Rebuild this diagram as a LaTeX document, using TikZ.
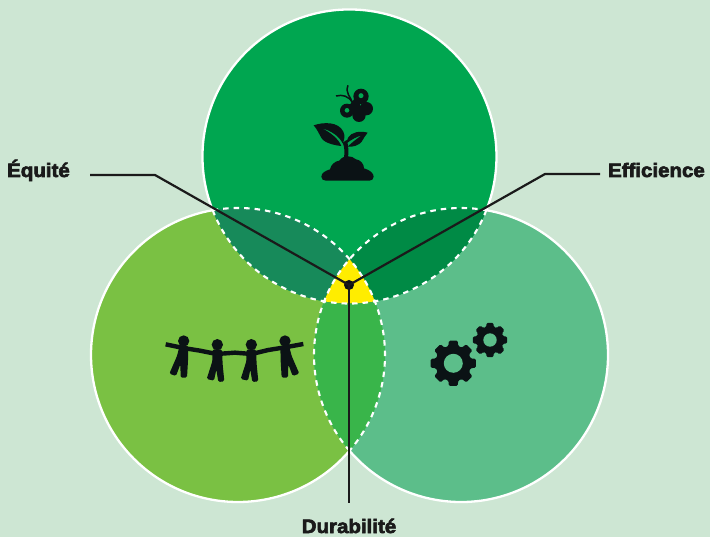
\documentclass[tikz,border=0pt]{standalone}
\usepackage{fontspec}
\newfontfamily\labfont{Liberation Sans Bold}[FakeBold=3.2,FakeStretch=1.05]
\definecolor{bgc}{HTML}{CDE6D3}
\definecolor{topc}{HTML}{00A650}
\definecolor{leftc}{HTML}{7AC143}
\definecolor{rightc}{HTML}{5CBE8A}
\definecolor{tlc}{HTML}{178A5A}
\definecolor{trc}{HTML}{008A45}
\definecolor{lrc}{HTML}{39B54A}
\definecolor{midc}{HTML}{FFED00}
\definecolor{inkc}{HTML}{0B1215}
\definecolor{linec}{HTML}{1A1A1A}
\tikzset{
 lab/.style={font=\labfont\fontsize{19.5}{20}\selectfont,text=linec,inner sep=0pt},
 conn/.style={draw=linec,line width=2.2pt},
 edge solid/.style={draw=white,line width=2.3pt},
 edge dash/.style={draw=white,line width=2.1pt,dash pattern=on 5.5pt off 5pt},
 ink/.style={fill=inkc,draw=none},
 gearhole/.style={fill=rightc,draw=none},
}
\newcommand{\Tc}{(349.5,156.5) circle (147)}
\newcommand{\Lc}{(238,355) circle (147)}
\newcommand{\Rc}{(461,355) circle (147)}
\newcommand{\gearshape}[4]{% x,y,outer,hole
 \begin{scope}[shift={(#1,#2)}]
  \fill[ink,rounded corners=1.2pt]
   (-11:#3) -- (11:#3) -- (16:#3*0.78) -- (29:#3*0.78)
   \foreach \a in {45,90,...,315}{
    -- ({\a-11}:#3) -- ({\a+11}:#3) -- ({\a+16}:#3*0.78) -- ({\a+29}:#3*0.78)
   } -- cycle;
  \fill[gearhole] (0,0) circle (#4);
 \end{scope}}
\newcommand{\personinner}{%
  \fill[ink] (0,0) circle (17);
  \fill[ink,rounded corners=1.5pt] (-14,14) -- (14,14) -- (16,60) -- (21,110) -- (3,112) -- (-3,75) -- (-10,108) -- (-32,103) -- (-15,50) -- cycle;}
\newcommand{\personouter}{%
  \fill[ink] (0,0) circle (17);
  \fill[ink,rounded corners=1.5pt] (-12,14) -- (14,14) -- (13,60) -- (10,110) -- (-9,110) -- (-10,70) -- (-23,105) -- (-43,98) -- (-20,45) -- cycle;}
\begin{document}
\begin{tikzpicture}[x=1pt,y=-1pt]
\useasboundingbox (0,0) rectangle (710,537);
\fill[bgc] (0,0) rectangle (710,537);
% discs
\fill[leftc] \Lc;
\fill[rightc] \Rc;
\fill[topc] \Tc;
% overlaps
\begin{scope}\clip \Lc; \fill[lrc] \Rc; \end{scope}
\begin{scope}\clip \Tc; \fill[tlc] \Lc; \end{scope}
\begin{scope}\clip \Tc; \fill[trc] \Rc; \end{scope}
\begin{scope}\clip \Tc; \clip \Lc; \fill[midc] \Rc; \end{scope}
% outer edges
\draw[edge solid] (349.5,156.5) ++(158.6:147) arc[start angle=158.6,end angle=381.4,radius=147];
\draw[edge solid] (238,355) ++(40.7:147) arc[start angle=40.7,end angle=260.1,radius=147];
\draw[edge solid] (461,355) ++(-80.1:147) arc[start angle=-80.1,end angle=139.3,radius=147];
% inner dashed edges
\draw[edge dash] (349.5,156.5) ++(21.4:147) arc[start angle=21.4,end angle=158.6,radius=147];
\draw[edge dash] (238,355) ++(-99.9:147) arc[start angle=-99.9,end angle=40.7,radius=147];
\draw[edge dash] (461,355) ++(139.3:147) arc[start angle=139.3,end angle=279.9,radius=147];
% gears
\gearshape{453.3}{363.3}{23}{9.5}
\gearshape{490}{340}{17.5}{6.7}
% people
\begin{scope}[shift={(150,320)},scale=1/3]
 \draw[draw=inkc,line width=4.4pt] (47,73) -- (100,84) -- (150,92) -- (200,102) -- (255,98) -- (305,102) -- (355,90) -- (405,82) -- (460,72);
 \begin{scope}[shift={(101,63)}]\personouter\end{scope}
 \begin{scope}[shift={(202,74)}]\personinner\end{scope}
 \begin{scope}[shift={(304,74)}]\personinner\end{scope}
 \begin{scope}[shift={(405,63)},xscale=-1]\personouter\end{scope}
\end{scope}
% plant and butterfly
\begin{scope}[shift={(280,60)},scale=1/3]
 % mound
 \fill[ink] (124,350) .. controls (124,338) and (138,332) .. (150,328)
   .. controls (152,315) and (165,303) .. (178,302)
   .. controls (190,284) and (215,286) .. (228,298)
   .. controls (242,300) and (252,312) .. (252,325)
   .. controls (270,330) and (281,340) .. (281,350)
   .. controls (281,358) and (275,362) .. (268,362)
   -- (138,362) .. controls (130,362) and (124,358) .. (124,350) -- cycle;
 % stem
 \fill[ink] (192,295) .. controls (194,275) and (194,262) .. (188,248) -- (200,240)
   .. controls (206,258) and (206,275) .. (204,295) -- cycle;
 % left leaf
 \fill[ink] (101,196) .. controls (130,186) and (175,184) .. (190,215)
   .. controls (196,228) and (193,240) .. (188,250)
   .. controls (178,230) and (155,212) .. (125,205)
   .. controls (148,215) and (175,235) .. (184,258)
   .. controls (165,256) and (135,250) .. (125,235)
   .. controls (117,222) and (112,208) .. (101,196) -- cycle;
 % right leaf
 \fill[ink] (263,218) .. controls (240,212) and (215,216) .. (205,232)
   .. controls (200,240) and (200,246) .. (200,250)
   .. controls (212,240) and (230,230) .. (245,226)
   .. controls (232,235) and (215,248) .. (203,260)
   .. controls (220,262) and (238,255) .. (245,245)
   .. controls (252,235) and (255,226) .. (263,218) -- cycle;
 % butterfly
 \fill[ink] (243,109) circle (23);
 \fill[ink] (201,152) circle (21);
 \fill[ink] (259,146) circle (20);
 \fill[ink] (237,166) circle (20);
 \fill[ink] (222,118) -- (240,130) -- (245,160) -- (225,165) -- (205,140) -- cycle;
 \fill[topc] (243,107) circle (7.5);
 \fill[topc] (201,151) circle (7);
 \draw[draw=inkc,line width=1.5pt] (217,127) .. controls (205,108) and (188,103) .. (168,108);
 \draw[draw=inkc,line width=1.5pt] (217,127) .. controls (212,110) and (195,100) .. (204,76);
\end{scope}
% labels
\node[lab,anchor=base west] (equite) at (7,177) {Équité};
\node[lab,anchor=base east] (efficience) at (705,177) {Efficience};
\node[lab,anchor=base] (durabilite) at (349,533) {Durabilité};
% connectors
\node[circle,fill=inkc,inner sep=0pt,minimum size=10pt] (hub) at (349,285) {};
\coordinate (e1) at (90,175);
\coordinate (e2) at (155,175);
\coordinate (f1) at (600,174);
\coordinate (f2) at (545,174);
\coordinate (d1) at (349,503);
\draw[conn] (e1) -- (e2) -- (hub.center);
\draw[conn] (f1) -- (f2) -- (hub.center);
\draw[conn] (hub.center) -- (d1);
\end{tikzpicture}
\end{document}
